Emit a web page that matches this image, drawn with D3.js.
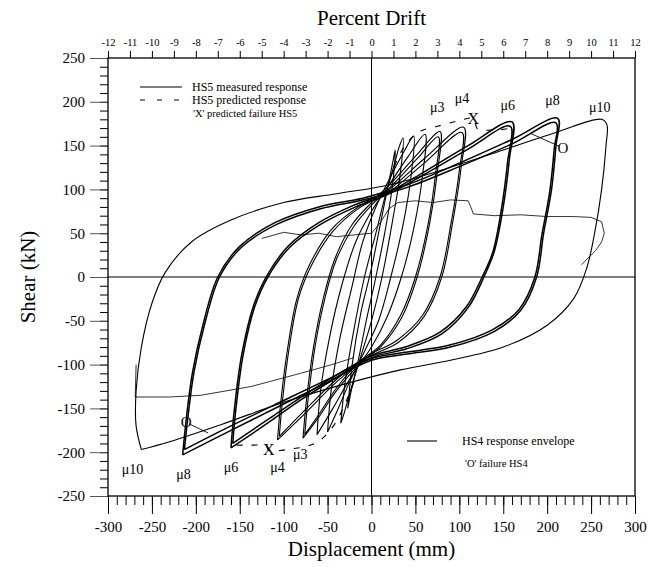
<!DOCTYPE html>
<html>
<head>
<meta charset="utf-8">
<script src="https://cdn.jsdelivr.net/npm/d3@7"></script>
<style>
body { margin: 0; background: #fff; }
text { font-family: "Liberation Serif", "Times New Roman", serif; fill: #000; }
</style>
</head>
<body>
<main></main>
<script>
// tick values
var dispTicks = [-300, -250, -200, -150, -100, -50, 0, 50, 100, 150, 200, 250, 300];
var shearTicks = [-250, -200, -150, -100, -50, 0, 50, 100, 150, 200, 250];
var driftTicks = [-12, -11, -10, -9, -8, -7, -6, -5, -4, -3, -2, -1, 0, 1, 2, 3, 4, 5, 6, 7, 8, 9, 10, 11, 12];

// HS5 measured loops, [displacement mm, shear kN]
var loopC1 = [[-27,-150],[-22,-100],[-12,-40],[0,10],[10,60],[18,100],[24,130],[27,145],[24,105],[15,50],[5,0],[-6,-50],[-14,-90],[-22,-125],[-27,-150]];
var loopC2 = [[-35,-167],[-30,-120],[-20,-60],[-8,0],[5,50],[15,90],[25,125],[32,150],[36,159],[33,120],[25,70],[12,0],[0,-50],[-12,-90],[-24,-130],[-31,-155],[-35,-167]];
var loopC3 = [[-50,-177],[-46,-130],[-36,-70],[-22,-10],[-10,40],[5,80],[22,115],[38,145],[48,161],[45,115],[36,60],[22,0],[8,-50],[-8,-85],[-25,-120],[-40,-155],[-50,-177]];
var loopC4 = [[-62,-180],[-58,-130],[-48,-70],[-34,-10],[-18,40],[0,75],[20,105],[42,138],[61,163],[58,115],[48,55],[34,0],[18,-45],[0,-80],[-22,-112],[-44,-150],[-62,-180]];
var loopMu3a = [[-78,-184],[-74,-140],[-66,-80],[-55,-25],[-42,20],[-22,60],[0,85],[25,110],[52,140],[78,166],[75,120],[66,60],[52,0],[35,-45],[12,-78],[-12,-98],[-40,-130],[-60,-160],[-78,-184]];
var loopMu3b = [[-76,-180],[-72,-138],[-64,-78],[-53,-24],[-40,20],[-20,58],[0,82],[25,106],[52,135],[76,160],[73,118],[64,58],[50,0],[33,-44],[10,-78],[-14,-97],[-40,-127],[-60,-157],[-76,-180]];
var loopMu4a = [[-107,-186],[-103,-140],[-96,-85],[-85,-25],[-70,15],[-45,55],[-15,80],[20,100],[60,135],[105,171],[102,125],[92,60],[80,0],[60,-45],[30,-75],[-5,-92],[-40,-120],[-75,-155],[-107,-186]];
var loopMu4b = [[-105,-182],[-101,-138],[-94,-83],[-83,-24],[-68,14],[-44,52],[-15,78],[20,97],[60,130],[103,165],[100,122],[90,58],[78,0],[58,-44],[28,-73],[-5,-90],[-40,-117],[-75,-151],[-105,-182]];
var loopMu6a = [[-160,-195],[-156,-150],[-148,-90],[-135,-35],[-120,0],[-95,35],[-60,62],[-20,82],[20,97],[60,120],[110,150],[160,177],[157,135],[150,80],[140,30],[128,0],[110,-35],[80,-65],[40,-82],[0,-92],[-40,-115],[-80,-140],[-120,-168],[-160,-195]];
var loopMu6b = [[-158,-190],[-154,-147],[-146,-88],[-133,-34],[-118,0],[-93,34],[-58,60],[-18,80],[20,95],[60,117],[110,146],[158,172],[155,132],[148,78],[138,28],[126,0],[108,-34],[78,-63],[38,-80],[0,-90],[-40,-112],[-80,-137],[-120,-164],[-158,-190]];
var loopMu8a = [[-215,-203],[-211,-163],[-204,-110],[-192,-55],[-175,0],[-150,35],[-110,62],[-60,80],[-10,90],[40,105],[100,130],[160,157],[212,181],[210,150],[205,100],[196,50],[188,0],[170,-38],[140,-62],[90,-80],[40,-88],[0,-95],[-50,-120],[-100,-145],[-160,-175],[-215,-203]];
var loopMu8b = [[-213,-197],[-209,-160],[-202,-108],[-190,-54],[-173,0],[-148,34],[-108,60],[-58,78],[-10,88],[40,102],[100,126],[160,152],[210,176],[208,146],[203,98],[194,48],[186,0],[168,-37],[138,-60],[88,-78],[38,-86],[0,-93],[-50,-117],[-100,-141],[-160,-170],[-213,-197]];
var loopMu10 = [[-262,-197],[-268,-170],[-268,-130],[-262,-80],[-250,-30],[-235,5],[-205,40],[-160,65],[-100,85],[-40,95],[20,105],[80,122],[150,145],[210,165],[262,180],[268,174],[267,150],[262,100],[254,50],[245,10],[230,-25],[200,-55],[150,-80],[90,-95],[33,-106],[-30,-122],[-100,-143],[-170,-168],[-230,-188],[-262,-197]];

var thinLoops = [loopC1, loopC2, loopC3, loopC4, loopMu3a, loopMu3b, loopMu4a, loopMu4b, loopMu10];
var thickLoops = [loopMu6a, loopMu6b, loopMu8a, loopMu8b];

// HS5 predicted response (dashed)
var predictedPos = [[20,110],[35,145],[53,165],[75,172],[98,178],[116,181],[120,170],[125,168],[145,168],[160,170]];
var predictedNeg = [[-20,-120],[-40,-165],[-58,-186],[-73,-193],[-90,-196],[-117,-198],[-120,-193],[-141,-192],[-155,-192]];

// HS4 response envelope
var hs4Neg = [[-268,-100],[-269,-137],[-230,-137],[-194,-135],[-137,-125],[-81,-110],[-45,-100],[-20,-92]];
var hs4Pos = [[-125,44],[-100,51],[-80,48],[-60,50],[-40,46],[-20,48],[0,50],[10,62],[20,78],[30,85],[50,87],[70,85],[90,88],[110,87],[113,80],[116,72],[140,70],[170,71],[200,69],[230,69],[250,68],[262,63],[265,50],[262,40],[255,30],[239,14]];

// failure marks
var hs5Fail = [[116,181],[-117,-197]];
var hs4Fail = [[218,147],[-211,-166]];
var hs4FailLinks = [[[181,164],[214,149]], [[-186,-178],[-207,-168]]];

// ductility labels
var muNames = ["\u03bc3", "\u03bc4", "\u03bc6", "\u03bc8", "\u03bc10"];
var muPosAt = [[75,193],[103,204],[155,196],[206,202],[260,194]];
var muNegAt = [[-81,-203],[-107,-217],[-160,-218],[-214,-226],[-272,-220]];

var width = 649, height = 567;
var svg = d3.select("main").append("svg")
  .attr("width", width)
  .attr("height", height);

var x = d3.scaleLinear().domain([-300, 300]).range([108, 635]);
var y = d3.scaleLinear().domain([-250, 250]).range([496, 58]);
var drift = d3.scaleLinear().domain([-12, 12]).range([108, 635]);

//bottom axis
svg.append("g")
  .attr("transform", "translate(0," + y(-250) + ")")
  .call(d3.axisBottom(x).tickValues(d3.range(-300, 301, 10)).tickSize(9).tickFormat(""));
svg.append("g")
  .attr("class", "bottom")
  .attr("transform", "translate(0," + y(-250) + ")")
  .call(d3.axisBottom(x).tickValues(dispTicks).tickSize(18).tickPadding(7).tickFormat(function(d){ return String(d); }));

//left axis
svg.append("g")
  .attr("transform", "translate(" + x(-300) + ",0)")
  .call(d3.axisLeft(y).tickValues(d3.range(-250, 251, 10)).tickSize(8).tickFormat(""));
svg.append("g")
  .attr("class", "left")
  .attr("transform", "translate(" + x(-300) + ",0)")
  .call(d3.axisLeft(y).tickValues(shearTicks).tickSize(18).tickPadding(5).tickFormat(function(d){ return String(d); }));

//top axis
svg.append("g")
  .attr("class", "top")
  .attr("transform", "translate(0," + y(250) + ")")
  .call(d3.axisTop(drift).tickValues(driftTicks).tickSize(7).tickPadding(5).tickFormat(function(d){ return String(d); }));

svg.selectAll(".domain").remove();
svg.selectAll(".tick line").attr("stroke", "#000").attr("stroke-width", 1);
svg.selectAll(".left .tick line").attr("stroke", "#555");
svg.selectAll(".bottom text, .left text").style("font-size", "15px");
svg.selectAll(".top text").style("font-size", "10.5px");

// plot box and zero lines
svg.append("rect")
  .attr("x", x(-300))
  .attr("y", y(250))
  .attr("width", x(300) - x(-300))
  .attr("height", y(-250) - y(250))
  .attr("fill", "none")
  .attr("stroke", "#000")
  .attr("stroke-width", 1.3);

svg.append("line")
  .attr("x1", x(-300)).attr("x2", x(300))
  .attr("y1", y(0)).attr("y2", y(0))
  .attr("stroke", "#000").attr("stroke-width", 1);
svg.append("line")
  .attr("x1", x(0)).attr("x2", x(0))
  .attr("y1", y(250)).attr("y2", y(-250))
  .attr("stroke", "#000").attr("stroke-width", 1);

var line = d3.line()
  .x(function(d){ return x(d[0]); })
  .y(function(d){ return y(d[1]); })
  .curve(d3.curveCatmullRom.alpha(0.5));

var straight = d3.line()
  .x(function(d){ return x(d[0]); })
  .y(function(d){ return y(d[1]); });

//hs4 envelope
svg.selectAll(".hs4")
  .data([hs4Neg, hs4Pos])
  .enter()
  .append("path")
  .attr("class", "hs4")
  .attr("d", straight)
  .attr("fill", "none")
  .attr("stroke", "#000")
  .attr("stroke-width", 0.8);

svg.selectAll(".link")
  .data(hs4FailLinks)
  .enter()
  .append("path")
  .attr("class", "link")
  .attr("d", straight)
  .attr("fill", "none")
  .attr("stroke", "#000")
  .attr("stroke-width", 0.9);

//hs5 loops
svg.selectAll(".thin")
  .data(thinLoops)
  .enter()
  .append("path")
  .attr("class", "thin")
  .attr("d", line)
  .attr("fill", "none")
  .attr("stroke", "#000")
  .attr("stroke-width", 1.1);

svg.selectAll(".thick")
  .data(thickLoops)
  .enter()
  .append("path")
  .attr("class", "thick")
  .attr("d", line)
  .attr("fill", "none")
  .attr("stroke", "#000")
  .attr("stroke-width", 1.5);

//predicted
svg.selectAll(".pred")
  .data([predictedPos, predictedNeg])
  .enter()
  .append("path")
  .attr("class", "pred")
  .attr("d", line)
  .attr("fill", "none")
  .attr("stroke", "#000")
  .attr("stroke-width", 1.1)
  .attr("stroke-dasharray", "6,9");

//markers
svg.selectAll(".xmark")
  .data(hs5Fail)
  .enter()
  .append("text")
  .attr("class", "xmark")
  .attr("x", function(d){ return x(d[0]); })
  .attr("y", function(d){ return y(d[1]); })
  .attr("text-anchor", "middle")
  .attr("dominant-baseline", "central")
  .style("font-size", "16px")
  .text("X");

svg.selectAll(".omark")
  .data(hs4Fail)
  .enter()
  .append("text")
  .attr("class", "omark")
  .attr("x", function(d){ return x(d[0]); })
  .attr("y", function(d){ return y(d[1]); })
  .attr("text-anchor", "middle")
  .attr("dominant-baseline", "central")
  .style("font-size", "15px")
  .text("O");

//mu labels
svg.selectAll(".mupos")
  .data(muPosAt)
  .enter()
  .append("text")
  .attr("x", function(d){ return x(d[0]); })
  .attr("y", function(d){ return y(d[1]); })
  .attr("text-anchor", "middle")
  .attr("dominant-baseline", "central")
  .style("font-size", "14px")
  .text(function(d, i){ return muNames[i]; });

svg.selectAll(".muneg")
  .data(muNegAt)
  .enter()
  .append("text")
  .attr("x", function(d){ return x(d[0]); })
  .attr("y", function(d){ return y(d[1]); })
  .attr("text-anchor", "middle")
  .attr("dominant-baseline", "central")
  .style("font-size", "14px")
  .text(function(d, i){ return muNames[i]; });

//legend top
svg.append("line").attr("x1", 140).attr("x2", 182).attr("y1", 87).attr("y2", 87)
  .attr("stroke", "#000").attr("stroke-width", 1.1);
svg.append("line").attr("x1", 140).attr("x2", 182).attr("y1", 100).attr("y2", 100)
  .attr("stroke", "#000").attr("stroke-width", 1.1).attr("stroke-dasharray", "5,12");
svg.append("text").attr("x", 192).attr("y", 91).style("font-size", "12px").text("HS5 measured response");
svg.append("text").attr("x", 192).attr("y", 104).style("font-size", "12px").text("HS5 predicted response");
svg.append("text").attr("x", 193).attr("y", 117).style("font-size", "10.5px").text("'X' predicted failure HS5");

//legend bottom
svg.append("line").attr("x1", 407).attr("x2", 437).attr("y1", 441).attr("y2", 441)
  .attr("stroke", "#000").attr("stroke-width", 1.1);
svg.append("text").attr("x", 462).attr("y", 445).style("font-size", "12px").text("HS4 response envelope");
svg.append("text").attr("x", 465).attr("y", 467).style("font-size", "10.5px").text("'O' failure HS4");

//titles
svg.append("text")
  .attr("x", x(0)).attr("y", 25)
  .attr("text-anchor", "middle")
  .style("font-size", "21px")
  .text("Percent Drift");

svg.append("text")
  .attr("x", x(0)).attr("y", 556)
  .attr("text-anchor", "middle")
  .style("font-size", "21px")
  .text("Displacement (mm)");

svg.append("text")
  .attr("transform", "translate(28," + y(0) + ") rotate(-90)")
  .attr("text-anchor", "middle")
  .attr("dominant-baseline", "central")
  .style("font-size", "21px")
  .text("Shear (kN)");
</script>
</body>
</html>
